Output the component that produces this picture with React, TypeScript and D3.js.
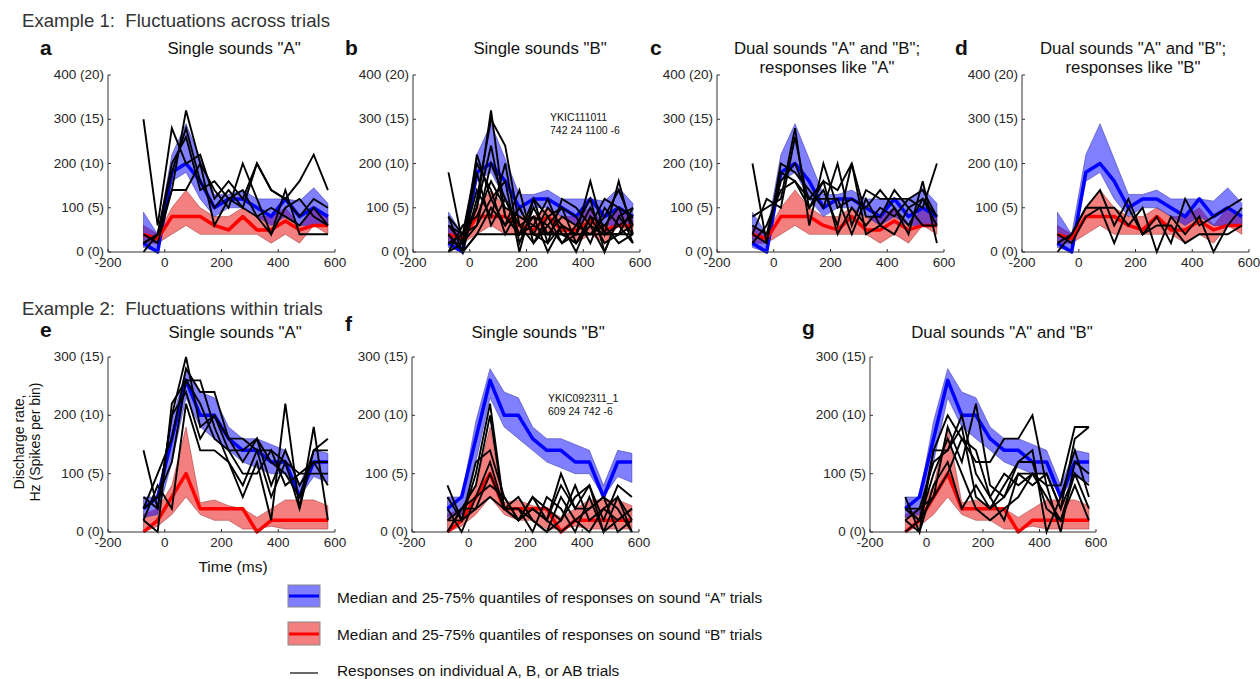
import React from 'react';
import * as d3 from 'd3';

// ---------- DATA ----------
const TIME_MS = [-75, -25, 25, 75, 125, 175, 225, 275, 325, 375, 425, 475, 525, 575];
const X_TICKS = [-200, 0, 200, 400, 600];
const Y_TICKS_ROW1 = [0, 100, 200, 300, 400];
const Y_LABELS_ROW1 = ['0 (0)', '100 (5)', '200 (10)', '300 (15)', '400 (20)'];
const Y_TICKS_ROW2 = [0, 100, 200, 300];
const Y_LABELS_ROW2 = ['0 (0)', '100 (5)', '200 (10)', '300 (15)'];

// Example 1 – sound "A" trials (Hz)
const EX1_A_MEDIAN = [20, 0, 180, 200, 160, 100, 120, 120, 100, 80, 120, 80, 100, 80];
const EX1_A_Q25 = [10, 0, 160, 180, 120, 80, 100, 100, 80, 60, 80, 60, 60, 60];
const EX1_A_Q75 = [90, 40, 220, 290, 210, 130, 130, 140, 120, 120, 120, 115, 145, 110];
// Example 1 – sound "B" trials
const EX1_B_MEDIAN = [40, 30, 80, 80, 80, 60, 50, 80, 50, 50, 70, 50, 60, 60];
const EX1_B_Q25 = [20, 20, 40, 60, 40, 40, 40, 40, 40, 20, 40, 20, 60, 40];
const EX1_B_Q75 = [60, 40, 100, 140, 100, 80, 80, 100, 80, 80, 100, 60, 100, 80];

// Example 2 – sound "A" trials
const EX2_A_MEDIAN = [40, 60, 160, 260, 200, 200, 160, 140, 140, 120, 120, 60, 120, 120];
const EX2_A_Q25 = [25, 30, 120, 230, 180, 160, 140, 120, 110, 100, 100, 60, 95, 85];
const EX2_A_Q75 = [60, 60, 190, 280, 240, 230, 180, 160, 160, 150, 140, 80, 140, 135];
// Example 2 – sound "B" trials
const EX2_B_MEDIAN = [0, 20, 60, 100, 40, 40, 40, 40, 0, 20, 20, 20, 20, 20];
const EX2_B_Q25 = [0, 10, 30, 60, 30, 20, 20, 5, 5, 10, 5, 5, 5, 5];
const EX2_B_Q75 = [30, 40, 80, 180, 50, 55, 45, 40, 25, 40, 55, 55, 55, 45];

// Individual trials
const TRIALS_A = [
  [300, 60, 280, 200, 220, 120, 160, 120, 200, 140, 120, 160, 220, 140],
  [20, 40, 140, 320, 200, 140, 100, 200, 120, 40, 140, 40, 40, 40],
  [0, 40, 180, 280, 160, 100, 140, 100, 200, 140, 120, 80, 120, 100],
  [40, 20, 140, 140, 200, 60, 120, 140, 80, 100, 80, 60, 100, 60],
  [20, 40, 200, 260, 140, 160, 120, 100, 80, 40, 100, 120, 80, 60],
];
const TRIALS_B = [
  [180, 20, 100, 320, 80, 40, 120, 20, 60, 40, 160, 40, 160, 40],
  [80, 0, 220, 120, 60, 100, 40, 100, 60, 0, 80, 60, 100, 20],
  [40, 0, 120, 300, 240, 60, 20, 80, 100, 20, 60, 0, 80, 40],
  [20, 40, 60, 200, 120, 40, 80, 60, 20, 40, 100, 40, 60, 80],
  [60, 20, 140, 80, 200, 20, 100, 40, 80, 60, 40, 80, 140, 60],
  [0, 60, 80, 160, 100, 80, 60, 120, 40, 20, 80, 20, 40, 100],
  [40, 0, 40, 100, 60, 140, 20, 60, 100, 80, 20, 100, 60, 20],
  [20, 20, 180, 60, 120, 60, 80, 0, 60, 40, 40, 60, 20, 40],
  [80, 40, 100, 240, 80, 40, 60, 40, 40, 20, 60, 40, 40, 60],
  [40, 0, 40, 40, 40, 40, 40, 40, 40, 40, 40, 40, 40, 40],
  [0, 20, 60, 120, 160, 0, 120, 80, 20, 60, 120, 0, 80, 100],
  [60, 40, 200, 140, 40, 100, 40, 20, 120, 100, 60, 120, 100, 80],
];
const TRIALS_C = [
  [200, 20, 180, 160, 120, 160, 140, 200, 80, 80, 140, 100, 120, 60],
  [80, 100, 120, 280, 60, 200, 100, 120, 100, 140, 100, 40, 160, 20],
  [40, 20, 200, 180, 140, 100, 200, 60, 140, 120, 120, 120, 100, 200],
  [20, 60, 140, 160, 100, 160, 40, 100, 60, 100, 80, 120, 140, 80],
  [60, 40, 160, 200, 120, 120, 120, 40, 120, 60, 100, 60, 120, 80],
  [40, 120, 100, 260, 100, 140, 60, 200, 40, 60, 40, 100, 60, 60],
];
const TRIALS_D = [
  [0, 40, 100, 140, 60, 120, 40, 80, 20, 120, 60, 80, 100, 120],
  [40, 20, 80, 100, 100, 60, 100, 0, 80, 40, 80, 0, 60, 100],
  [20, 40, 100, 100, 20, 100, 40, 60, 60, 20, 40, 40, 40, 60],
];
const TRIALS_E = [
  [140, 40, 200, 300, 180, 200, 140, 140, 160, 120, 100, 60, 140, 160],
  [20, 0, 220, 260, 260, 180, 120, 60, 120, 20, 220, 40, 180, 20],
  [40, 100, 160, 280, 240, 240, 160, 120, 160, 80, 140, 80, 120, 80],
  [60, 40, 200, 240, 160, 200, 160, 160, 140, 140, 120, 100, 100, 100],
  [20, 80, 40, 220, 140, 140, 120, 80, 140, 60, 120, 40, 140, 140],
  [40, 60, 120, 260, 220, 160, 140, 100, 100, 140, 80, 100, 120, 120],
];
const TRIALS_F = [
  [80, 20, 100, 220, 40, 20, 60, 20, 100, 40, 80, 20, 80, 60],
  [0, 40, 80, 200, 40, 40, 20, 0, 60, 20, 40, 60, 40, 0],
  [60, 20, 120, 140, 60, 20, 60, 40, 20, 80, 20, 40, 60, 20],
  [20, 40, 40, 100, 40, 40, 0, 60, 40, 0, 60, 0, 20, 40],
  [40, 0, 60, 80, 60, 20, 40, 20, 80, 40, 40, 60, 0, 20],
  [20, 20, 40, 60, 40, 60, 20, 0, 20, 60, 80, 0, 60, 0],
  [0, 40, 60, 120, 40, 20, 40, 20, 0, 20, 0, 40, 20, 40],
];
const TRIALS_G = [
  [60, 0, 140, 200, 160, 120, 120, 160, 160, 200, 80, 80, 180, 180],
  [40, 20, 60, 180, 120, 220, 80, 60, 100, 100, 100, 40, 160, 180],
  [20, 40, 120, 140, 180, 60, 40, 80, 120, 140, 0, 60, 140, 60],
  [0, 20, 100, 160, 100, 40, 20, 40, 60, 100, 80, 0, 120, 100],
  [40, 20, 140, 140, 200, 100, 60, 20, 100, 80, 100, 40, 100, 40],
  [20, 0, 80, 120, 40, 80, 40, 60, 120, 120, 40, 20, 80, 20],
  [40, 40, 60, 100, 160, 140, 60, 100, 80, 100, 60, 20, 100, 80],
];

const FONT = '"Liberation Sans", Arial, sans-serif';
const BLUE_FILL = 'rgba(0,0,255,0.5)';
const RED_FILL = 'rgba(232,0,0,0.5)';

type Stats = { med: number[]; q25: number[]; q75: number[] };
const EX1_A: Stats = { med: EX1_A_MEDIAN, q25: EX1_A_Q25, q75: EX1_A_Q75 };
const EX1_B: Stats = { med: EX1_B_MEDIAN, q25: EX1_B_Q25, q75: EX1_B_Q75 };
const EX2_A: Stats = { med: EX2_A_MEDIAN, q25: EX2_A_Q25, q75: EX2_A_Q75 };
const EX2_B: Stats = { med: EX2_B_MEDIAN, q25: EX2_B_Q25, q75: EX2_B_Q75 };

type PanelProps = {
  left: number; right: number; top: number; bottom: number;
  yMax: number; yTicks: number[]; yLabels: string[];
  a: Stats; b: Stats; trials: number[][];
  letter: string; letterX: number; letterY: number;
  title: string[]; titleX: number; titleY: number;
  note?: string[]; noteX?: number; noteY?: number;
};

function Panel(p: PanelProps) {
  const x = d3.scaleLinear().domain([-200, 600]).range([p.left, p.right]);
  const y = d3.scaleLinear().domain([0, p.yMax]).range([p.bottom, p.top]);
  const idx = d3.range(TIME_MS.length);
  const band = (s: Stats) =>
    d3.area<number>().x(i => x(TIME_MS[i])).y0(i => y(s.q25[i])).y1(i => y(s.q75[i]))(idx) || '';
  const line = (vals: number[]) =>
    d3.line<number>().x(i => x(TIME_MS[i])).y(i => y(vals[i]))(idx) || '';
  const x0 = x(-200);
  const y0 = y(0);
  return (
    <g>
      <text x={p.letterX} y={p.letterY} fontFamily={FONT} fontSize={21} fontWeight="bold" fill="#111">{p.letter}</text>
      {p.title.map((t, i) => (
        <text key={i} x={p.titleX} y={p.titleY + i * 19} textAnchor="middle" fontFamily={FONT} fontSize={16.8} fill="#111">{t}</text>
      ))}
      <path d={band(p.b)} fill={RED_FILL} stroke="rgba(150,40,40,0.6)" strokeWidth={0.8} />
      <path d={band(p.a)} fill={BLUE_FILL} stroke="rgba(40,40,150,0.6)" strokeWidth={0.8} />
      <path d={line(p.a.med)} fill="none" stroke="#0000ff" strokeWidth={3.5} strokeLinejoin="round" />
      <path d={line(p.b.med)} fill="none" stroke="#ff0000" strokeWidth={3.5} strokeLinejoin="round" />
      {p.trials.map((t, i) => (
        <path key={i} d={line(t)} fill="none" stroke="#000" strokeWidth={1.9} strokeLinejoin="miter" />
      ))}
      {/* axes */}
      <line x1={x0} x2={x(600)} y1={y0} y2={y0} stroke="#333" strokeWidth={1} />
      <line x1={x0} x2={x0} y1={y0} y2={y(p.yMax)} stroke="#333" strokeWidth={1} />
      {X_TICKS.map(v => (
        <g key={v}>
          <line x1={x(v)} x2={x(v)} y1={y0} y2={y0 - 3} stroke="#333" />
          <text x={x(v)} y={y0 + 15} textAnchor="middle" fontFamily={FONT} fontSize={13.5} fill="#262626">{v}</text>
        </g>
      ))}
      {p.yTicks.map((v, i) => (
        <g key={v}>
          <line x1={x0} x2={x0 + 3} y1={y(v)} y2={y(v)} stroke="#333" />
          <text x={x0 - 4} y={y(v) + 4} textAnchor="end" fontFamily={FONT} fontSize={13.5} fill="#262626">{p.yLabels[i]}</text>
        </g>
      ))}
      {p.note && p.note.map((t, i) => (
        <text key={i} x={p.noteX} y={(p.noteY || 0) + i * 13} fontFamily={FONT} fontSize={10.5} fill="#111">{t}</text>
      ))}
    </g>
  );
}

export default function App() {
  const r1 = { top: 75, bottom: 252, yMax: 400, yTicks: Y_TICKS_ROW1, yLabels: Y_LABELS_ROW1, a: EX1_A, b: EX1_B };
  const r2 = { top: 357, bottom: 532, yMax: 300, yTicks: Y_TICKS_ROW2, yLabels: Y_LABELS_ROW2, a: EX2_A, b: EX2_B };
  return (
    <svg width={1260} height={679} style={{ position: 'absolute', left: 0, top: 0, display: 'block', background: '#fff' }}>
      <rect x={0} y={0} width={1260} height={679} fill="#fff" />
      <text x={22} y={27} fontFamily={FONT} fontSize={18.6} fill="#333">{'Example 1:\u00A0 Fluctuations across trials'}</text>
      <text x={22} y={315} fontFamily={FONT} fontSize={18.6} fill="#333">{'Example 2:\u00A0 Fluctuations within trials'}</text>

      <Panel {...r1} left={108} right={335} trials={TRIALS_A} letter="a" letterX={40} letterY={55}
        title={['Single sounds "A"']} titleX={234} titleY={54} />
      <Panel {...r1} left={413} right={640} trials={TRIALS_B} letter="b" letterX={345} letterY={55}
        title={['Single sounds "B"']} titleX={540} titleY={54}
        note={['YKIC111011', '742 24 1100 -6']} noteX={550} noteY={121} />
      <Panel {...r1} left={717} right={944} trials={TRIALS_C} letter="c" letterX={650} letterY={55}
        title={['Dual sounds "A" and "B";', 'responses like "A"']} titleX={827} titleY={54} />
      <Panel {...r1} left={1022} right={1249} trials={TRIALS_D} letter="d" letterX={955} letterY={55}
        title={['Dual sounds "A" and "B";', 'responses like "B"']} titleX={1133} titleY={54} />

      <Panel {...r2} left={108} right={335} trials={TRIALS_E} letter="e" letterX={40} letterY={337}
        title={['Single sounds "A"']} titleX={235} titleY={338} />
      <Panel {...r2} left={412} right={639} trials={TRIALS_F} letter="f" letterX={345} letterY={331}
        title={['Single sounds "B"']} titleX={538} titleY={338}
        note={['YKIC092311_1', '609 24 742 -6']} noteX={548} noteY={402} />
      <Panel {...r2} left={870} right={1096} trials={TRIALS_G} letter="g" letterX={802} letterY={335}
        title={['Dual sounds "A" and "B"']} titleX={1002} titleY={338} />

      {/* axis labels */}
      <text transform="translate(24,442) rotate(-90)" textAnchor="middle" fontFamily={FONT} fontSize={14} fill="#111">Discharge rate,</text>
      <text transform="translate(40,442) rotate(-90)" textAnchor="middle" fontFamily={FONT} fontSize={14} fill="#111">Hz (Spikes per bin)</text>
      <text x={233} y={572} textAnchor="middle" fontFamily={FONT} fontSize={15.5} fill="#111">Time (ms)</text>

      {/* legend */}
      <rect x={288} y={585} width={32} height={22} fill={BLUE_FILL} stroke="#888" strokeWidth={1} />
      <line x1={289} x2={319} y1={596} y2={596} stroke="#0000ff" strokeWidth={3} />
      <text x={337} y={603} fontFamily={FONT} fontSize={15.4} fill="#111">Median and 25-75% quantiles of responses on sound “A” trials</text>
      <rect x={288} y={622} width={32} height={23} fill={RED_FILL} stroke="#888" strokeWidth={1} />
      <line x1={289} x2={319} y1={634} y2={634} stroke="#ff0000" strokeWidth={3} />
      <text x={337} y={640} fontFamily={FONT} fontSize={15.4} fill="#111">Median and 25-75% quantiles of responses on sound “B” trials</text>
      <line x1={290} x2={318} y1={673} y2={673} stroke="#000" strokeWidth={1.2} />
      <text x={337} y={676} fontFamily={FONT} fontSize={15.4} fill="#111">Responses on individual A, B, or AB trials</text>
    </svg>
  );
}
